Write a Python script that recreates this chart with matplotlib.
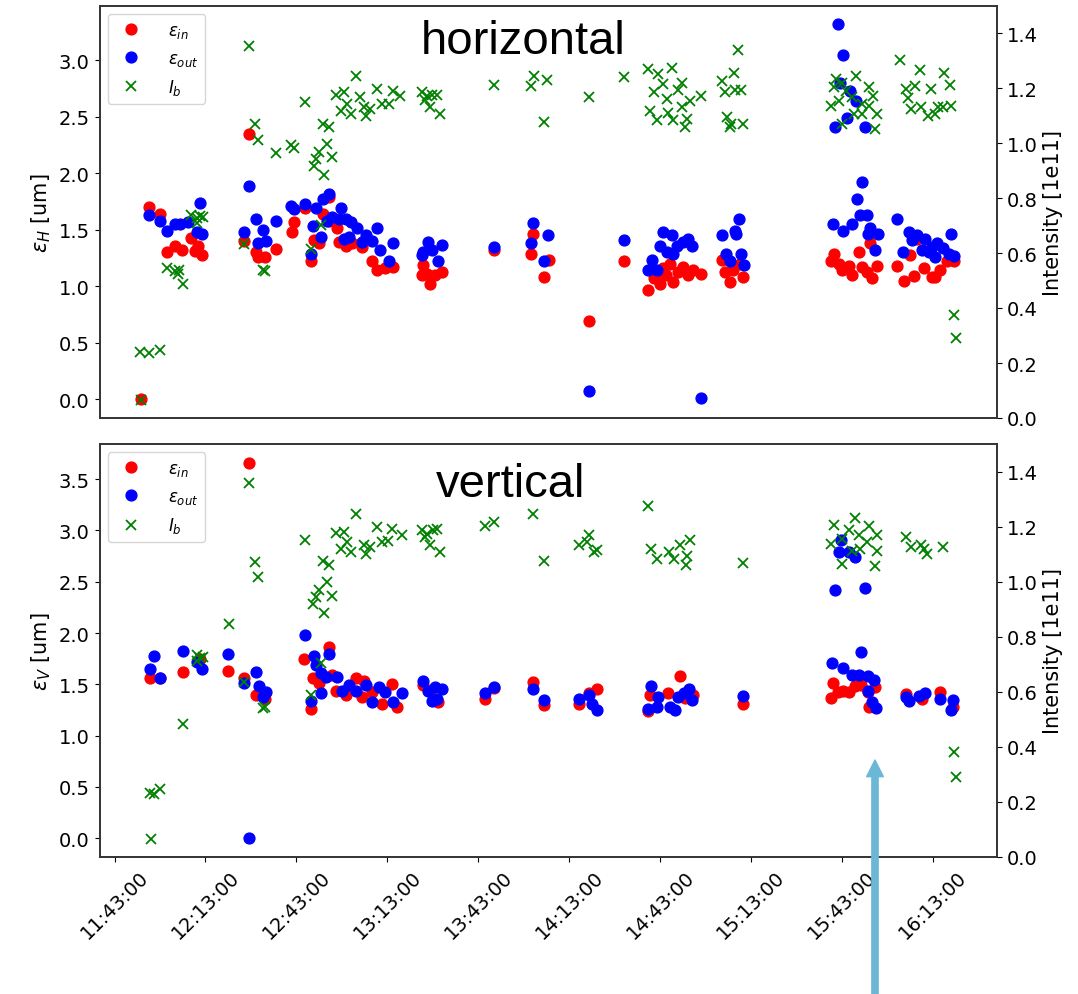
import numpy as np
import pandas as pd
import matplotlib
matplotlib.use('Agg')
import matplotlib.pyplot as plt
import matplotlib.dates as mdates
from matplotlib.patches import FancyArrowPatch

# times are minutes after 11:43:00
t0 = pd.Timestamp('2018-05-01 11:43:00')

# ---- horizontal ----
t_in_h = [8.7, 11.3, 14.9, 17.2, 20.0, 22.2, 25.1, 26.5, 27.6, 29.0,
          42.6, 44.3, 46.7, 47.3, 49.5, 53.3, 58.5, 59.3, 62.9, 64.8, 65.8, 67.5, 68.8, 70.8, 70.8,
          73.5, 74.0, 76.2, 78.4, 81.7, 84.9, 86.5, 89.3, 92.0,
          101.3, 101.9, 103.0, 104.0, 105.7, 107.9,
          125.3, 137.4, 138.0, 141.7, 143.4, 156.5, 168.1,
          176.1, 177.8, 180.0, 181.0, 183.2, 184.3, 186.0, 187.6, 189.3, 190.9, 182.0, 179.0,
          193.3, 200.2, 201.3, 202.9, 204.0, 206.2, 207.3,
          236.2, 237.3, 238.9, 240.0, 242.2, 243.3, 245.5, 246.6, 248.2, 249.3, 249.9, 251.5,
          258.1, 260.3, 262.5, 263.6, 264.7, 266.9, 269.6, 270.7, 272.4, 274.6, 276.8]
eps_in_h = [0.00, 1.70, 1.64, 1.30, 1.36, 1.32, 1.43, 1.31, 1.36, 1.28,
            1.40, 2.35, 1.30, 1.26, 1.26, 1.33, 1.48, 1.57, 1.69, 1.22, 1.41, 1.38, 1.64, 1.79, 1.58,
            1.52, 1.39, 1.36, 1.38, 1.35, 1.22, 1.14, 1.16, 1.17,
            1.10, 1.19, 1.11, 1.02, 1.10, 1.13,
            1.32, 1.29, 1.46, 1.08, 1.23, 0.69, 1.22,
            0.97, 1.07, 1.02, 1.16, 1.20, 1.04, 1.13, 1.17, 1.10, 1.14, 1.10, 1.12,
            1.11, 1.23, 1.13, 1.04, 1.14, 1.20, 1.08,
            1.22, 1.29, 1.20, 1.14, 1.18, 1.10, 1.30, 1.17, 1.13, 1.38, 1.07, 1.18,
            1.18, 1.05, 1.28, 1.09, 1.42, 1.16, 1.08, 1.08, 1.14, 1.22, 1.22]

t_out_h = [11.3, 14.9, 17.2, 20.0, 21.6, 24.3, 27.1, 28.2, 29.0,
           42.6, 44.5, 46.5, 47.3, 48.9, 50.0, 53.3, 58.2, 59.3, 62.9, 64.8, 65.3, 66.4, 68.1, 68.6,
           70.2, 70.8, 71.8, 74.0, 74.6, 75.7, 76.2, 77.3, 77.9, 80.0, 81.7, 82.8, 84.9, 86.5, 87.7,
           90.4, 92.0,
           101.3, 101.9, 103.5, 104.6, 106.8, 107.9,
           125.3, 137.4, 138.0, 141.7, 143.1, 156.5, 168.1,
           176.1, 177.2, 178.9, 180.0, 181.0, 182.1, 183.8, 184.3, 185.4, 187.6, 189.3, 190.3,
           193.3, 200.5, 201.6, 202.9, 204.5, 205.1, 205.9, 206.6, 207.7,
           236.9, 237.7, 238.5, 239.4, 240.3, 240.4, 241.6, 242.7, 243.1, 244.7, 245.0, 245.8, 246.6,
           247.6, 248.3, 248.6, 249.2, 250.8, 251.8,
           258.0, 260.2, 261.9, 263.0, 264.6, 266.3, 267.4, 268.5, 269.6, 270.7, 271.2, 273.4, 275.2,
           276.0, 276.8]
eps_out_h = [1.63, 1.58, 1.49, 1.55, 1.55, 1.57, 1.48, 1.74, 1.46,
             1.48, 1.89, 1.60, 1.38, 1.50, 1.40, 1.58, 1.71, 1.68, 1.73, 1.29, 1.53, 1.69, 1.44, 1.77,
             1.58, 1.82, 1.61, 1.60, 1.69, 1.42, 1.60, 1.44, 1.57, 1.52, 1.39, 1.45, 1.40, 1.52, 1.32,
             1.22, 1.38,
             1.28, 1.30, 1.39, 1.32, 1.22, 1.37,
             1.35, 1.38, 1.56, 1.22, 1.45, 0.07, 1.41,
             1.14, 1.23, 1.14, 1.36, 1.48, 1.30, 1.45, 1.29, 1.36, 1.39, 1.42, 1.36,
             0.01, 1.45, 1.29, 1.22, 1.49, 1.46, 1.60, 1.29, 1.19,
             1.55, 2.41, 3.32, 2.80, 3.05, 1.49, 2.49, 2.73, 1.55, 2.64, 1.77, 1.63, 1.92,
             2.41, 1.63, 1.46, 1.52, 1.32, 1.46,
             1.60, 1.30, 1.48, 1.41, 1.45, 1.32, 1.42, 1.30, 1.35, 1.26, 1.38, 1.34, 1.29,
             1.46, 1.27]

t_ib_h = [8.5, 8.7, 11.3, 14.9, 17.2, 20.0, 20.8, 21.4, 22.5, 25.1, 27.1, 27.1, 28.2, 29.3,
          42.6, 44.3, 46.4, 47.3, 48.9, 49.5, 53.3, 58.2, 59.1, 62.9, 64.8, 65.8, 66.4, 67.5, 68.1,
          68.8, 69.1, 70.2, 70.8, 71.8, 72.9, 74.6, 75.7, 76.8, 78.0, 79.6, 81.1, 82.3, 82.8, 84.4,
          86.5, 88.2, 90.4, 91.7,
          94.2, 101.3, 102.4, 102.9, 104.0, 104.6, 106.2, 107.3,
          125.3, 137.4, 138.2, 141.7, 142.8, 156.5, 168.1,
          176.1, 176.7, 177.8, 178.9, 179.4, 181.0, 182.1, 182.7, 183.8, 184.3, 186.0, 187.1, 187.1,
          188.1, 188.7, 189.8,
          193.3, 200.5, 201.2, 202.0, 202.9, 203.4, 204.2, 204.8, 205.6, 206.7, 207.2,
          236.2, 237.3, 237.8, 238.9, 240.0, 240.0, 241.1, 243.3, 243.8, 244.4, 246.6, 246.6, 248.7,
          248.7, 250.3, 250.9, 251.5,
          259.0, 261.2, 261.7, 262.8, 263.9, 265.5, 266.1, 268.3, 269.4, 270.5, 271.5, 273.2, 273.5,
          275.4, 275.9, 276.8, 277.6]
ib_h = [0.240, 0.065, 0.237, 0.249, 0.546, 0.534, 0.522, 0.540, 0.486, 0.739, 0.727, 0.709, 0.733, 0.730,
        0.634, 1.353, 1.070, 1.012, 0.540, 0.534, 0.964, 0.992, 0.983, 1.148, 0.614, 0.916, 0.943, 0.967, 0.703,
        1.070, 0.883, 0.998, 1.058, 0.949, 1.176, 1.118, 1.184, 1.142, 1.106, 1.244, 1.166, 1.130, 1.100, 1.124,
        1.196, 1.142, 1.142, 1.190,
        1.172, 1.184, 1.156, 1.172, 1.130, 1.176, 1.176, 1.104,
        1.212, 1.208, 1.244, 1.076, 1.229, 1.166, 1.241,
        1.268, 1.118, 1.184, 1.082, 1.250, 1.214, 1.160, 1.108, 1.271, 1.082, 1.192, 1.220, 1.130,
        1.058, 1.088, 1.154,
        1.172, 1.226, 1.184, 1.094, 1.060, 1.069, 1.253, 1.192, 1.340, 1.192, 1.068,
        1.136, 1.202, 1.232, 1.154, 1.220, 1.070, 1.190, 1.166, 1.106, 1.244, 1.142, 1.106, 1.202,
        1.136, 1.172, 1.052, 1.106,
        1.301, 1.196, 1.164, 1.124, 1.208, 1.265, 1.130, 1.100, 1.196, 1.106, 1.130, 1.130, 1.256,
        1.212, 1.136, 0.374, 0.290]

# ---- vertical ----
t_in_v = [11.8, 14.9, 22.5, 28.2, 37.5, 42.6, 44.5, 46.5, 49.5,
          62.6, 64.8, 65.3, 67.5, 70.8, 71.8, 73.0, 76.2, 79.5, 81.7, 82.3, 84.9, 88.2, 91.5, 93.1,
          101.9, 104.0, 106.8, 122.3, 125.3, 137.9, 141.7, 153.2, 156.5, 159.2,
          176.1, 176.7, 182.6, 186.5, 188.2, 190.9,
          207.4, 236.2, 237.0, 238.6, 240.3, 242.4, 244.1, 246.3, 248.5, 249.0, 250.7,
          261.0, 266.3, 272.3, 276.6]
eps_in_v = [1.56, 1.56, 1.62, 1.75, 1.63, 1.56, 3.66, 1.40, 1.36,
            1.75, 1.26, 1.56, 1.51, 1.86, 1.59, 1.44, 1.40, 1.56, 1.38, 1.53, 1.43, 1.31, 1.50, 1.28,
            1.49, 1.44, 1.33, 1.36, 1.46, 1.52, 1.30, 1.31, 1.42, 1.45,
            1.24, 1.40, 1.42, 1.58, 1.37, 1.40,
            1.31, 1.37, 1.51, 1.43, 1.44, 1.43, 1.48, 1.49, 1.43, 1.28, 1.47,
            1.41, 1.36, 1.43, 1.28]

t_out_v = [11.8, 13.1, 14.9, 22.5, 27.1, 28.7, 37.5, 42.6, 44.5, 46.5, 47.6, 48.9, 50.0,
           62.9, 64.8, 65.8, 66.4, 68.1, 68.1, 69.7, 70.8, 73.5, 75.1, 77.3, 79.5, 82.8, 84.9, 87.1,
           89.3, 92.0,
           94.8, 101.9, 103.5, 104.6, 105.7, 106.2, 107.9, 122.3, 125.3, 137.9, 141.7, 153.2, 156.5,
           157.4, 159.2,
           176.1, 176.9, 178.9, 179.4, 183.2, 184.8, 185.9, 187.8, 189.6, 190.3,
           207.4, 236.7, 237.5, 239.0, 239.5, 240.3, 242.2, 243.1, 244.2, 245.5, 246.3, 247.4, 248.4,
           248.5, 249.7, 250.5, 251.3,
           261.0, 261.9, 265.2, 267.4, 272.3, 275.8, 276.6]
eps_out_v = [1.65, 1.78, 1.56, 1.83, 1.72, 1.65, 1.80, 1.51, 0.00, 1.62, 1.48, 1.38, 1.43,
             1.98, 1.34, 1.78, 1.69, 1.61, 1.42, 1.57, 1.80, 1.57, 1.44, 1.49, 1.44, 1.49, 1.33, 1.47,
             1.43, 1.33,
             1.42, 1.53, 1.44, 1.34, 1.47, 1.36, 1.45, 1.42, 1.47, 1.45, 1.35, 1.36, 1.40,
             1.31, 1.25,
             1.26, 1.48, 1.28, 1.38, 1.28, 1.25, 1.38, 1.42, 1.45, 1.35,
             1.39, 1.71, 2.42, 2.79, 2.91, 1.66, 2.79, 1.59, 2.74, 1.59, 1.82, 2.44, 1.44,
             1.58, 1.33, 1.54, 1.27,
             1.38, 1.34, 1.39, 1.42, 1.36, 1.25, 1.35]

t_ib_v = [11.8, 12.0, 13.1, 14.9, 22.5, 27.1, 27.1, 28.2, 29.3, 37.8, 42.6, 44.5, 46.4, 47.3, 48.9, 49.5,
          62.9, 64.8, 65.3, 66.4, 67.3, 68.1, 68.8, 69.1, 70.2, 70.8, 71.8, 72.9, 74.6, 75.7, 76.8,
          78.0, 79.6, 82.3, 82.8, 84.4, 86.5, 88.2, 90.2, 91.5,
          94.8, 101.3, 102.4, 102.9, 104.0, 105.1, 106.2, 107.3, 122.3, 125.3, 137.9, 141.7, 153.2,
          155.9, 156.5, 158.1, 159.2,
          176.1, 176.9, 178.9, 183.0, 184.6, 186.5, 188.5, 188.9, 189.8,
          207.4, 236.2, 237.3, 240.0, 240.0, 242.4, 243.2, 244.1, 245.5, 245.9, 248.2, 248.7, 250.8,
          251.4, 251.5,
          261.0, 262.8, 266.1, 267.0, 268.0, 273.2, 276.8, 277.6]
ib_v = [0.232, 0.064, 0.229, 0.247, 0.484, 0.732, 0.712, 0.722, 0.728, 0.845, 0.636, 1.357, 1.071, 1.017,
        0.540, 0.543,
        1.150, 0.588, 0.918, 0.945, 0.969, 0.705, 1.074, 0.885, 0.999, 1.059, 0.949, 1.178, 1.119, 1.182,
        1.145, 1.108, 1.246, 1.134, 1.101, 1.125, 1.198, 1.145, 1.148, 1.192,
        1.170, 1.186, 1.162, 1.174, 1.132, 1.186, 1.190, 1.106, 1.201, 1.216, 1.246, 1.074, 1.134,
        1.144, 1.168, 1.108, 1.114,
        1.274, 1.117, 1.084, 1.109, 1.081, 1.134, 1.059, 1.095, 1.150,
        1.066, 1.138, 1.206, 1.156, 1.065, 1.186, 1.110, 1.230, 1.168, 1.117, 1.144, 1.203, 1.057,
        1.110, 1.170,
        1.162, 1.126, 1.132, 1.120, 1.101, 1.126, 0.380, 0.292]

tick_minutes = np.arange(0, 300, 30)


def to_time(minutes):
    return (t0 + pd.to_timedelta(np.asarray(minutes, dtype=float), unit='min')).values


W, H = 1078, 995
fig = plt.figure(figsize=(W / 100, H / 100), dpi=100)
left = 99.5 / W
width = (997 - 99.5) / W
ax_h = fig.add_axes([left, 1 - 419 / H, width, (419 - 6.5) / H])
ax_v = fig.add_axes([left, 1 - 858 / H, width, (858 - 445) / H], sharex=ax_h)

panels = [(ax_h, t_in_h, eps_in_h, t_out_h, eps_out_h, t_ib_h, ib_h, r'$\epsilon_H$ [um]'),
          (ax_v, t_in_v, eps_in_v, t_out_v, eps_out_v, t_ib_v, ib_v, r'$\epsilon_V$ [um]')]

for ax, t_in, e_in, t_out, e_out, t_ib, ib, ylab in panels:
    l1, = ax.plot(to_time(t_in), e_in, 'o', color='red', ms=7.8, label=r'$\epsilon_{in}$')
    l2, = ax.plot(to_time(t_out), e_out, 'o', color='blue', ms=7.8, label=r'$\epsilon_{out}$')
    ax2 = ax.twinx()
    l3, = ax2.plot(to_time(t_ib), ib, 'x', color='green', ms=6.5, mew=1.3, label=r'$I_b$')
    ax2.set_ylim(0, 1.5)
    ax.set_ylabel(ylab, fontsize=15)
    ax2.set_ylabel('Intensity [1e11]', fontsize=15)
    ax.tick_params(labelsize=14)
    ax2.tick_params(labelsize=14)
    for a in (ax, ax2):
        for s in a.spines.values():
            s.set_edgecolor('#333333')
            s.set_linewidth(1.2)
    ax2.legend([l1, l2, l3], [l1.get_label(), l2.get_label(), l3.get_label()],
               loc='upper left', fontsize=12, handletextpad=1.2, numpoints=1,
               labelspacing=0.55)

ax_h.tick_params(axis='x', bottom=False, labelbottom=False)
ax_v.set_xticks(to_time(tick_minutes))
ax_v.xaxis.set_major_formatter(mdates.DateFormatter('%H:%M:%S'))
plt.setp(ax_v.get_xticklabels(), rotation=45)

fig.text(523 / W, 1 - 54 / H, 'horizontal', fontsize=34, family='Liberation Sans',
         ha='center', va='baseline')
fig.text(511 / W, 1 - 497 / H, 'vertical', fontsize=34, family='Liberation Sans',
         ha='center', va='baseline')

arrow = FancyArrowPatch((875 / W, 0.0), (875 / W, 1 - 761 / H), transform=fig.transFigure,
                        arrowstyle='simple,head_width=0.8,head_length=0.8,tail_width=0.3',
                        mutation_scale=15, color='#6bb8d6', shrinkA=0, shrinkB=0, zorder=10)
fig.add_artist(arrow)

fig.savefig('out.png', dpi=100)
